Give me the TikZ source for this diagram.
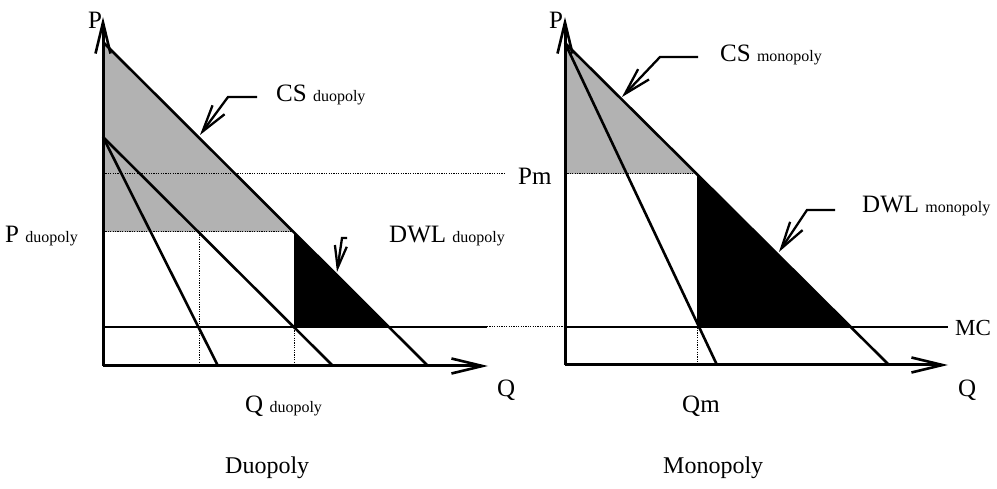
\documentclass[tikz,border=0pt]{standalone}
\usepackage{fontspec}
\setmainfont{Liberation Serif}
\usetikzlibrary{arrows.meta}
\tikzset{
  axis/.style={line width=3pt,-{Straight Barb[length=31pt,width=15pt,line width=2.6pt]}},
  curve/.style={line width=2.6pt},
  guide/.style={line width=1pt,dash pattern=on 1.2pt off 1.2pt},
  csfill/.style={fill=black!30},
  dwlfill/.style={fill=black},
  pointer/.style={line width=2.3pt,-{Straight Barb[length=27pt,width=15pt,line width=2.3pt]}},
  big/.style={font=\fontsize{25}{28}\selectfont},
  lbl/.style={inner sep=0pt,anchor=base west},
}
\newcommand{\sm}[1]{{\fontsize{16}{18}\selectfont #1}}
\begin{document}
\begin{tikzpicture}[x=1pt,y=-1pt]
\useasboundingbox (0,0) rectangle (997,489);
% ---------- left panel (duopoly) ----------
\coordinate (LO) at (103,366);
\coordinate (LT) at (103,17);
\coordinate (LX) at (488,366);
\coordinate (LDa) at (103,42);
\coordinate (LDb) at (428,366);
\coordinate (LMa) at (103,137);
\coordinate (LMb) at (218,366);
\coordinate (LRb) at (333,366);
\coordinate (LPd) at (103,232);
\coordinate (LE) at (294,232);
\coordinate (LEq) at (294,366);
\coordinate (LEm) at (294,327);
\coordinate (LF) at (199,232);
\coordinate (LFq) at (199,366);
\coordinate (LMC0) at (103,327);
\coordinate (LMC1) at (487,327);
\coordinate (LC) at (390,327);
\coordinate (Lpm0) at (103,174);
\coordinate (Lpm1) at (505,174);
% fills
\fill[csfill] (LDa) -- (LE) -- (LPd) -- cycle;
\fill[dwlfill] (LE) -- (LC) -- (LEm) -- cycle;
% guides
\draw[guide] (Lpm0) -- (Lpm1);
\draw[guide] (LPd) -- (LE);
\draw[guide] (LF) -- (LFq);
\draw[guide] (LE) -- (LEq);
\draw[guide] (LMC1) -- (563,327);
% curves
\draw[curve] (LDa) -- (LDb);
\draw[curve] (LMa) -- (LMb);
\draw[curve] (LMa) -- (LRb);
\draw[curve,line width=2.8pt] (LMC0) -- (LMC1);
\draw[axis] (LO) -- (LT);
\draw[axis] (LO) -- (LX);
% pointers
\coordinate (cs1a) at (257,97); \coordinate (cs1b) at (228,97); \coordinate (cs1c) at (200,135);
\draw[pointer] (cs1a) -- (cs1b) -- (cs1c);
\coordinate (dw1a) at (347,238); \coordinate (dw1b) at (342,238); \coordinate (dw1c) at (337,272);
\draw[pointer,-{Straight Barb[length=22pt,width=12pt,line width=2.3pt]}] (dw1a) -- (dw1b) -- (dw1c);
% labels
\node[lbl,big] (tP1) at (88,29) {P};
\node[lbl,big] (tCS1) at (276,102) {CS \sm{duopoly}};
\node[lbl,big] (tDWL1) at (389,243) {DWL \sm{duopoly}};
\node[lbl,big] (tPd) at (5,243) {P \sm{duopoly}};
\node[lbl,big] (tPm) at (518,185) {Pm};
\node[lbl,big] (tQ1) at (497,396) {Q};
\node[lbl,big] (tQd) at (245,412) {Q \sm{duopoly}};
\node[lbl,big,font=\fontsize{24}{28}\selectfont] (tDuo) at (225,473) {Duopoly};
% ---------- right panel (monopoly) ----------
\coordinate (RO) at (565,365);
\coordinate (RT) at (565,17);
\coordinate (RX) at (948,365);
\coordinate (RDa) at (565,43);
\coordinate (RDb) at (889,365);
\coordinate (RMb) at (717,365);
\coordinate (RPm) at (565,174);
\coordinate (RE) at (697,174);
\coordinate (REm) at (697,327);
\coordinate (REq) at (697,365);
\coordinate (RC) at (851,327);
\coordinate (RMC0) at (565,327);
\coordinate (RMC1) at (948,327);
\fill[csfill] (RDa) -- (RE) -- (RPm) -- cycle;
\fill[dwlfill] (RE) -- (RC) -- (REm) -- cycle;
\draw[guide] (RPm) -- (RE);
\draw[guide] (RE) -- (REq);
\draw[curve] (RDa) -- (RDb);
\draw[curve] (RDa) -- (RMb);
\draw[curve,line width=2.8pt] (RMC0) -- (RMC1);
\draw[axis] (RO) -- (RT);
\draw[axis] (RO) -- (RX);
\coordinate (cs2a) at (698,57); \coordinate (cs2b) at (660,57); \coordinate (cs2c) at (622,97);
\draw[pointer] (cs2a) -- (cs2b) -- (cs2c);
\coordinate (dw2a) at (835,210); \coordinate (dw2b) at (807,210); \coordinate (dw2c) at (779,252);
\draw[pointer] (dw2a) -- (dw2b) -- (dw2c);
\node[lbl,big] (tP2) at (549,29) {P};
\node[lbl,big] (tCS2) at (720,62) {CS \sm{monopoly}};
\node[lbl,big] (tDWL2) at (862,213) {DWL \sm{monopoly}};
\node[lbl,big,font=\fontsize{23}{28}\selectfont] (tMC) at (955,336) {MC};
\node[lbl,big] (tQ2) at (958,396) {Q};
\node[lbl,big] (tQm) at (682,413) {Qm};
\node[lbl,big,font=\fontsize{24}{28}\selectfont] (tMono) at (663,473) {Monopoly};
\end{tikzpicture}
\end{document}
